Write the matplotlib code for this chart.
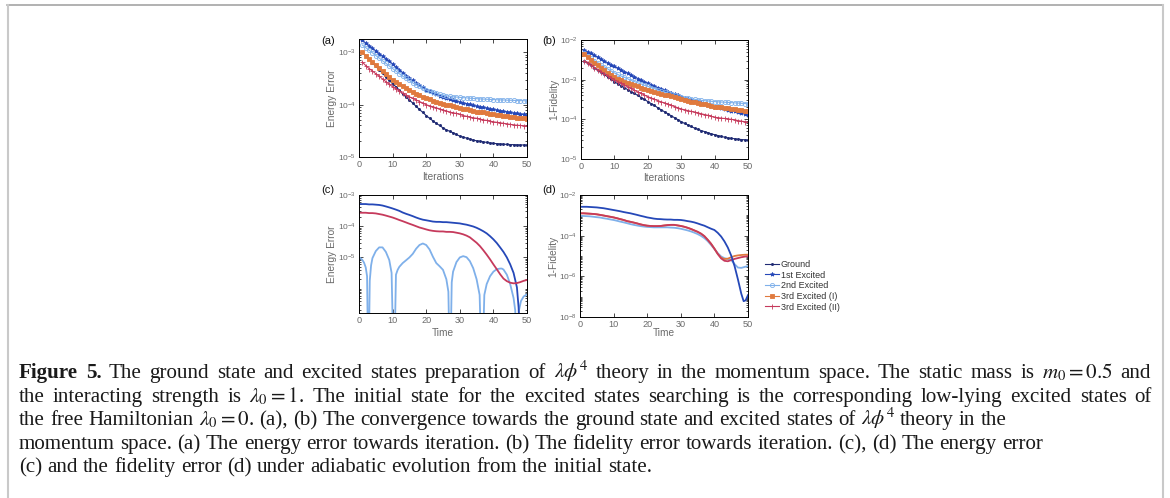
import math
import matplotlib
matplotlib.use("Agg")
import matplotlib.pyplot as plt
from matplotlib.lines import Line2D
from matplotlib.ticker import FixedLocator, LogLocator, FuncFormatter, NullFormatter

plt.rcParams['font.family'] = ['Liberation Sans', 'DejaVu Sans']
plt.rcParams['mathtext.fontset'] = 'custom'
plt.rcParams['mathtext.rm'] = 'Liberation Sans'
plt.rcParams['mathtext.it'] = 'Liberation Sans:italic'
plt.rcParams['mathtext.bf'] = 'Liberation Sans:bold'

W, H = 1170, 498

series_names = ["Ground", "1st Excited", "2nd Excited", "3rd Excited (I)", "3rd Excited (II)"]
iterations = list(range(1, 51))

# (a) energy error vs iteration
energy_ground = [1.0e-3, 8.5e-4, 7.4e-4, 6.3e-4, 5.4e-4, 4.7e-4, 4.0e-4, 3.4e-4, 2.95e-4, 2.5e-4,
                 2.2e-4, 1.9e-4, 1.6e-4, 1.4e-4, 1.23e-4, 1.07e-4, 9.3e-5, 8.1e-5, 7.1e-5, 6.2e-5,
                 5.5e-5, 4.9e-5, 4.4e-5, 4.0e-5, 3.6e-5, 3.3e-5, 3.1e-5, 2.9e-5, 2.7e-5, 2.5e-5,
                 2.4e-5, 2.3e-5, 2.2e-5, 2.1e-5, 2.04e-5, 2.0e-5, 1.95e-5, 1.9e-5, 1.86e-5, 1.82e-5,
                 1.8e-5, 1.78e-5, 1.76e-5, 1.74e-5, 1.73e-5, 1.72e-5, 1.71e-5, 1.70e-5, 1.70e-5, 1.69e-5]
energy_1st = [1.70e-3, 1.51e-3, 1.35e-3, 1.20e-3, 1.07e-3, 9.5e-4, 8.5e-4, 7.6e-4, 6.8e-4, 6.0e-4,
              5.2e-4, 4.7e-4, 4.1e-4, 3.6e-4, 3.2e-4, 2.9e-4, 2.6e-4, 2.35e-4, 2.14e-4, 1.95e-4,
              1.82e-4, 1.70e-4, 1.58e-4, 1.48e-4, 1.38e-4, 1.32e-4, 1.26e-4, 1.22e-4, 1.17e-4, 1.12e-4,
              1.08e-4, 1.05e-4, 1.01e-4, 9.8e-5, 9.3e-5, 9.1e-5, 8.9e-5, 8.6e-5, 8.3e-5, 8.1e-5,
              7.9e-5, 7.7e-5, 7.5e-5, 7.3e-5, 7.1e-5, 6.9e-5, 6.8e-5, 6.6e-5, 6.5e-5, 6.3e-5]
energy_2nd = [1.38e-3, 1.23e-3, 1.10e-3, 9.8e-4, 8.7e-4, 7.8e-4, 6.9e-4, 6.2e-4, 5.5e-4, 4.9e-4,
              4.4e-4, 3.9e-4, 3.5e-4, 3.2e-4, 2.9e-4, 2.6e-4, 2.4e-4, 2.24e-4, 2.04e-4, 1.91e-4,
              1.82e-4, 1.74e-4, 1.66e-4, 1.58e-4, 1.53e-4, 1.48e-4, 1.45e-4, 1.41e-4, 1.40e-4, 1.38e-4,
              1.36e-4, 1.35e-4, 1.33e-4, 1.32e-4, 1.30e-4, 1.29e-4, 1.28e-4, 1.27e-4, 1.26e-4, 1.25e-4,
              1.24e-4, 1.235e-4, 1.23e-4, 1.22e-4, 1.215e-4, 1.21e-4, 1.20e-4, 1.195e-4, 1.19e-4, 1.18e-4]
energy_3rd_i = [1.0e-3, 8.7e-4, 7.6e-4, 6.6e-4, 5.8e-4, 5.0e-4, 4.4e-4, 3.8e-4, 3.4e-4, 3.0e-4,
                2.7e-4, 2.45e-4, 2.24e-4, 2.04e-4, 1.90e-4, 1.76e-4, 1.62e-4, 1.51e-4, 1.41e-4, 1.33e-4,
                1.26e-4, 1.19e-4, 1.13e-4, 1.08e-4, 1.03e-4, 1.0e-4, 9.7e-5, 9.3e-5, 9.0e-5, 8.7e-5,
                8.4e-5, 8.1e-5, 7.9e-5, 7.7e-5, 7.4e-5, 7.2e-5, 7.1e-5, 6.9e-5, 6.7e-5, 6.5e-5,
                6.4e-5, 6.3e-5, 6.2e-5, 6.0e-5, 5.9e-5, 5.8e-5, 5.6e-5, 5.55e-5, 5.5e-5, 5.4e-5]
energy_3rd_ii = [6.5e-4, 5.6e-4, 4.9e-4, 4.4e-4, 3.9e-4, 3.5e-4, 3.1e-4, 2.75e-4, 2.45e-4, 2.2e-4,
                 2.0e-4, 1.82e-4, 1.66e-4, 1.51e-4, 1.41e-4, 1.32e-4, 1.23e-4, 1.15e-4, 1.07e-4, 1.0e-4,
                 9.5e-5, 9.1e-5, 8.7e-5, 8.3e-5, 7.9e-5, 7.6e-5, 7.2e-5, 7.0e-5, 6.8e-5, 6.5e-5,
                 6.2e-5, 6.0e-5, 5.8e-5, 5.6e-5, 5.5e-5, 5.3e-5, 5.1e-5, 5.0e-5, 4.85e-5, 4.7e-5,
                 4.6e-5, 4.5e-5, 4.4e-5, 4.3e-5, 4.2e-5, 4.1e-5, 4.05e-5, 4.0e-5, 3.95e-5, 3.9e-5]

# (b) 1-fidelity vs iteration
infid_ground = [3.0e-3, 2.6e-3, 2.3e-3, 2.0e-3, 1.74e-3, 1.55e-3, 1.35e-3, 1.17e-3, 1.02e-3, 8.9e-4,
                7.9e-4, 7.1e-4, 6.3e-4, 5.6e-4, 5.0e-4, 4.5e-4, 4.0e-4, 3.55e-4, 3.2e-4, 2.8e-4,
                2.5e-4, 2.24e-4, 1.95e-4, 1.74e-4, 1.55e-4, 1.38e-4, 1.23e-4, 1.1e-4, 9.8e-5, 8.7e-5,
                7.9e-5, 7.2e-5, 6.6e-5, 6.0e-5, 5.6e-5, 5.2e-5, 4.9e-5, 4.6e-5, 4.3e-5, 4.1e-5,
                3.9e-5, 3.7e-5, 3.55e-5, 3.4e-5, 3.3e-5, 3.25e-5, 3.15e-5, 3.1e-5, 3.05e-5, 3.0e-5]
infid_1st = [5.6e-3, 5.0e-3, 4.6e-3, 4.1e-3, 3.7e-3, 3.3e-3, 2.95e-3, 2.65e-3, 2.4e-3, 2.15e-3,
             1.95e-3, 1.78e-3, 1.6e-3, 1.45e-3, 1.32e-3, 1.2e-3, 1.07e-3, 9.8e-4, 8.9e-4, 8.1e-4,
             7.4e-4, 6.9e-4, 6.3e-4, 5.9e-4, 5.4e-4, 5.0e-4, 4.7e-4, 4.3e-4, 4.0e-4, 3.7e-4,
             3.5e-4, 3.25e-4, 3.1e-4, 2.9e-4, 2.75e-4, 2.6e-4, 2.45e-4, 2.3e-4, 2.2e-4, 2.1e-4,
             2.0e-4, 1.9e-4, 1.82e-4, 1.74e-4, 1.66e-4, 1.58e-4, 1.51e-4, 1.45e-4, 1.37e-4, 1.3e-4]
infid_2nd = [4.6e-3, 4.0e-3, 3.5e-3, 3.0e-3, 2.7e-3, 2.35e-3, 2.1e-3, 1.86e-3, 1.66e-3, 1.48e-3,
             1.35e-3, 1.23e-3, 1.15e-3, 1.05e-3, 9.5e-4, 8.9e-4, 8.3e-4, 7.8e-4, 7.2e-4, 6.8e-4,
             6.3e-4, 5.9e-4, 5.5e-4, 5.1e-4, 4.9e-4, 4.6e-4, 4.4e-4, 4.1e-4, 3.9e-4, 3.7e-4,
             3.55e-4, 3.4e-4, 3.3e-4, 3.2e-4, 3.1e-4, 3.0e-4, 2.95e-4, 2.9e-4, 2.85e-4, 2.8e-4,
             2.76e-4, 2.73e-4, 2.70e-4, 2.67e-4, 2.63e-4, 2.60e-4, 2.57e-4, 2.54e-4, 2.50e-4, 2.46e-4]
infid_3rd_i = [4.4e-3, 3.7e-3, 3.2e-3, 2.7e-3, 2.3e-3, 2.0e-3, 1.74e-3, 1.51e-3, 1.32e-3, 1.17e-3,
               1.07e-3, 9.8e-4, 8.9e-4, 8.3e-4, 7.8e-4, 7.2e-4, 6.8e-4, 6.3e-4, 5.9e-4, 5.5e-4,
               5.2e-4, 4.9e-4, 4.7e-4, 4.4e-4, 4.2e-4, 4.0e-4, 3.8e-4, 3.6e-4, 3.4e-4, 3.25e-4,
               3.1e-4, 2.95e-4, 2.8e-4, 2.7e-4, 2.6e-4, 2.45e-4, 2.37e-4, 2.3e-4, 2.2e-4, 2.1e-4,
               2.04e-4, 2.0e-4, 1.95e-4, 1.9e-4, 1.84e-4, 1.8e-4, 1.76e-4, 1.7e-4, 1.66e-4, 1.62e-4]
infid_3rd_ii = [3.0e-3, 2.6e-3, 2.3e-3, 2.0e-3, 1.78e-3, 1.58e-3, 1.41e-3, 1.26e-3, 1.12e-3, 1.0e-3,
                8.9e-4, 8.1e-4, 7.2e-4, 6.6e-4, 6.0e-4, 5.4e-4, 4.9e-4, 4.5e-4, 4.1e-4, 3.7e-4,
                3.45e-4, 3.2e-4, 2.95e-4, 2.75e-4, 2.6e-4, 2.4e-4, 2.24e-4, 2.1e-4, 1.95e-4, 1.82e-4,
                1.74e-4, 1.66e-4, 1.58e-4, 1.51e-4, 1.45e-4, 1.38e-4, 1.32e-4, 1.26e-4, 1.19e-4, 1.12e-4,
                1.1e-4, 1.07e-4, 1.05e-4, 1.02e-4, 1.0e-4, 9.7e-5, 9.3e-5, 9.0e-5, 8.7e-5, 8.5e-5]

# (c) energy error under adiabatic evolution
time_1st_c = list(range(48)) + [47.5, 48]
adia_energy_1st = [5.13e-4, 5.13e-4, 5.13e-4, 5.0e-4, 5.0e-4, 4.9e-4, 4.8e-4, 4.6e-4, 4.3e-4, 4.0e-4,
                   3.7e-4, 3.4e-4, 3.1e-4, 2.75e-4, 2.5e-4, 2.3e-4, 2.1e-4, 1.9e-4, 1.74e-4, 1.62e-4,
                   1.55e-4, 1.48e-4, 1.41e-4, 1.38e-4, 1.38e-4, 1.35e-4, 1.35e-4, 1.32e-4, 1.29e-4, 1.26e-4,
                   1.23e-4, 1.17e-4, 1.12e-4, 1.05e-4, 9.8e-5, 8.9e-5, 7.9e-5, 6.9e-5, 5.9e-5, 4.8e-5,
                   3.8e-5, 2.9e-5, 2.1e-5, 1.5e-5, 1.0e-5, 6.0e-6, 3.2e-6, 1.1e-6, 2.5e-7, 1e-8]
time_2nd_c = [0, 0.5, 1, 1.5, 2, 2.4, 2.8, 3.2, 3.6, 4,
              5, 6, 7, 8, 9, 9.7, 10.4, 11.0, 11.5, 12,
              13, 14, 15, 16, 17, 18, 19, 20, 21, 22,
              23, 24, 25, 26, 26.6, 27.1, 27.6, 28, 29, 30,
              31, 32, 33, 34, 35, 35.9, 36.6, 37.3, 38, 39,
              40, 41, 42, 42.5, 43, 44, 45, 46, 46.5, 47.0,
              47.6, 48.2, 49, 50]
adia_energy_2nd = [1.0e-5, 9.3e-6, 8.3e-6, 6.8e-6, 4.8e-6, 2.5e-6, 1e-9, 1.8e-6, 5.6e-6, 9.5e-6,
                   1.6e-5, 2.1e-5, 2.1e-5, 1.5e-5, 8.3e-6, 3.2e-6, 1e-9, 2.8e-6, 4.0e-6, 5.0e-6,
                   6.6e-6, 8.1e-6, 1.0e-5, 1.3e-5, 1.9e-5, 2.5e-5, 2.8e-5, 2.5e-5, 1.8e-5, 1.05e-5,
                   6.6e-6, 5.2e-6, 4.0e-6, 2.0e-6, 8e-7, 1e-9, 1.6e-6, 3.5e-6, 7.1e-6, 1.0e-5,
                   1.1e-5, 1.02e-5, 7.6e-6, 4.5e-6, 2.0e-6, 6.3e-7, 1e-9, 6.3e-7, 1.4e-6, 2.5e-6,
                   3.5e-6, 4.2e-6, 4.4e-6, 4.4e-6, 4.1e-6, 2.8e-6, 1.4e-6, 5.0e-7, 2.0e-7, 1e-9,
                   2.0e-7, 4.0e-7, 5.6e-7, 6.6e-7]
time_c = list(range(51))
adia_energy_3rd_ii = [2.7e-4, 2.7e-4, 2.7e-4, 2.63e-4, 2.63e-4, 2.57e-4, 2.45e-4, 2.34e-4, 2.19e-4, 2.04e-4,
                      1.9e-4, 1.74e-4, 1.58e-4, 1.45e-4, 1.32e-4, 1.2e-4, 1.1e-4, 1.0e-4, 9.1e-5, 8.5e-5,
                      7.9e-5, 7.4e-5, 7.1e-5, 6.9e-5, 6.8e-5, 6.8e-5, 6.6e-5, 6.6e-5, 6.5e-5, 6.2e-5,
                      5.9e-5, 5.5e-5, 5.0e-5, 4.4e-5, 3.6e-5, 2.95e-5, 2.3e-5, 1.7e-5, 1.23e-5, 8.7e-6,
                      6.0e-6, 4.2e-6, 2.9e-6, 2.1e-6, 1.74e-6, 1.55e-6, 1.48e-6, 1.51e-6, 1.62e-6, 1.78e-6,
                      1.9e-6]

# (d) 1-fidelity under adiabatic evolution
time_1st_d = list(range(49)) + [48.7, 49.3, 50]
adia_infid_1st = [2.63e-3, 2.63e-3, 2.63e-3, 2.57e-3, 2.51e-3, 2.45e-3, 2.34e-3, 2.24e-3, 2.09e-3, 1.95e-3,
                  1.82e-3, 1.70e-3, 1.58e-3, 1.45e-3, 1.35e-3, 1.26e-3, 1.15e-3, 1.05e-3, 9.5e-4, 8.7e-4,
                  7.9e-4, 7.4e-4, 6.9e-4, 6.6e-4, 6.5e-4, 6.3e-4, 6.2e-4, 6.2e-4, 6.0e-4, 6.0e-4,
                  5.9e-4, 5.6e-4, 5.2e-4, 4.9e-4, 4.5e-4, 4.0e-4, 3.5e-4, 3.1e-4, 2.6e-4, 2.2e-4,
                  1.9e-4, 1.38e-4, 9.1e-5, 5.2e-5, 2.6e-5, 1.05e-5, 3.2e-6, 7.1e-7, 1.4e-7, 6.0e-8,
                  6.6e-8, 1.2e-7]
time_d = list(range(51))
adia_infid_2nd = [9.5e-4, 9.3e-4, 9.1e-4, 8.9e-4, 8.5e-4, 8.1e-4, 7.8e-4, 7.2e-4, 6.8e-4, 6.3e-4,
                  5.9e-4, 5.4e-4, 4.9e-4, 4.5e-4, 4.1e-4, 3.7e-4, 3.4e-4, 3.16e-4, 2.95e-4, 2.8e-4,
                  2.7e-4, 2.63e-4, 2.57e-4, 2.57e-4, 2.57e-4, 2.57e-4, 2.57e-4, 2.5e-4, 2.45e-4, 2.34e-4,
                  2.19e-4, 2.0e-4, 1.82e-4, 1.62e-4, 1.41e-4, 1.2e-4, 9.8e-5, 7.6e-5, 5.4e-5, 3.5e-5,
                  2.2e-5, 1.38e-5, 9.5e-6, 7.8e-6, 7.1e-6, 6.3e-6, 4.0e-6, 2.7e-6, 2.6e-6, 2.9e-6,
                  3.2e-6]
adia_infid_3rd_i = [1.26e-3, 1.26e-3, 1.23e-3, 1.20e-3, 1.17e-3, 1.12e-3, 1.05e-3, 9.8e-4, 9.1e-4, 8.5e-4,
                    7.9e-4, 7.2e-4, 6.5e-4, 5.9e-4, 5.2e-4, 4.8e-4, 4.4e-4, 4.0e-4, 3.6e-4, 3.3e-4,
                    3.1e-4, 3.0e-4, 2.95e-4, 2.95e-4, 3.0e-4, 3.16e-4, 3.3e-4, 3.4e-4, 3.4e-4, 3.2e-4,
                    3.0e-4, 2.75e-4, 2.45e-4, 2.14e-4, 1.82e-4, 1.55e-4, 1.26e-4, 9.5e-5, 6.3e-5, 4.0e-5,
                    2.3e-5, 1.26e-5, 8.3e-6, 7.1e-6, 7.4e-6, 8.7e-6, 1.0e-5, 1.07e-5, 1.12e-5, 1.15e-5,
                    1.17e-5]
adia_infid_3rd_ii = [1.26e-3, 1.26e-3, 1.23e-3, 1.20e-3, 1.17e-3, 1.12e-3, 1.05e-3, 9.8e-4, 9.1e-4, 8.5e-4,
                     7.9e-4, 7.2e-4, 6.5e-4, 5.9e-4, 5.2e-4, 4.8e-4, 4.4e-4, 4.0e-4, 3.6e-4, 3.3e-4,
                     3.1e-4, 3.0e-4, 2.95e-4, 2.95e-4, 3.0e-4, 3.16e-4, 3.3e-4, 3.4e-4, 3.4e-4, 3.2e-4,
                     3.0e-4, 2.75e-4, 2.45e-4, 2.14e-4, 1.82e-4, 1.55e-4, 1.26e-4, 9.5e-5, 6.3e-5, 4.0e-5,
                     2.3e-5, 1.26e-5, 7.6e-6, 5.8e-6, 5.5e-6, 6.3e-6, 7.2e-6, 7.9e-6, 8.7e-6, 9.3e-6,
                     9.8e-6]

caption_lines = [
    [("Figure 5.", 'bold'),
     ("The ground state and excited states preparation of $\\lambda\\phi^4$ theory in the momentum space. "
      "The static mass is $m_0=0.5$ and", 'normal')],
    [("the interacting strength is $\\lambda_0=1$. The initial state for the excited states searching is "
      "the corresponding low-lying excited states of", 'normal')],
    [("the free Hamiltonian $\\lambda_0=0$. (a), (b) The convergence towards the ground state and excited "
      "states of $\\lambda\\phi^4$ theory in the", 'normal')],
    [("momentum space. (a) The energy error towards iteration. (b) The fidelity error towards iteration. "
      "(c), (d) The energy error", 'normal')],
    [("(c) and the fidelity error (d) under adiabatic evolution from the initial state.", 'normal')],
]

colors = ['#1f2a73', '#2548b8', '#7fb0ea', '#e07a3e', '#c63a5c']
markers = ['.', '*', 'o', 's', '+']
msizes = [3.0, 3.0, 3.0, 2.4, 3.6]
GRAY = '#6a6a6a'
SERIF = ['Liberation Serif', 'DejaVu Serif']


def px_rect(left, top, right, bottom):
    return [left / W, 1 - bottom / H, (right - left) / W, (bottom - top) / H]


def decade_fmt(v, pos):
    return r'$10^{%d}$' % round(math.log10(v))


def style_axes(ax, ylim, yticks, xlabel, ylabel, xlab_y):
    ax.set_yscale('log')
    ax.set_xlim(0, 50)
    ax.set_ylim(*ylim)
    ax.set_xticks([0, 10, 20, 30, 40, 50])
    ax.yaxis.set_major_locator(FixedLocator(yticks))
    ax.yaxis.set_major_formatter(FuncFormatter(decade_fmt))
    ax.yaxis.set_minor_locator(LogLocator(base=10, subs=range(1, 10), numticks=20))
    ax.yaxis.set_minor_formatter(NullFormatter())
    ax.tick_params(which='both', direction='in', top=True, right=True,
                   labelcolor=GRAY, width=0.5, pad=2)
    ax.tick_params(axis='x', labelsize=6.6)
    ax.tick_params(axis='y', labelsize=6.0)
    ax.tick_params(which='major', length=2.6)
    ax.tick_params(which='minor', length=1.4)
    for sp in ax.spines.values():
        sp.set_linewidth(0.7)
    ax.set_xlabel(xlabel, fontsize=7.3, color=GRAY)
    ax.set_ylabel(ylabel, fontsize=7.3, color=GRAY)
    ax.xaxis.set_label_coords(0.5, xlab_y)
    ax.xaxis.label.set_va('center')
    ax.yaxis.set_label_coords(-0.16, 0.5)
    ax.yaxis.label.set_va('center')


fig = plt.figure(figsize=(W / 100, H / 100), dpi=100)
fig.patch.set_facecolor('white')

ax_a = fig.add_axes(px_rect(359, 39, 527, 157))
ax_b = fig.add_axes(px_rect(581, 40, 748, 159))
ax_c = fig.add_axes(px_rect(359, 195, 527, 313))
ax_d = fig.add_axes(px_rect(580, 195, 748, 317))

energy_sets = [energy_ground, energy_1st, energy_2nd, energy_3rd_i, energy_3rd_ii]
infid_sets = [infid_ground, infid_1st, infid_2nd, infid_3rd_i, infid_3rd_ii]
handles = []
for i, name in enumerate(series_names):
    mfc = 'none' if markers[i] == 'o' else colors[i]
    kw = dict(color=colors[i], marker=markers[i], ms=msizes[i], mfc=mfc, mew=0.6, lw=0.8)
    h, = ax_a.plot(iterations, energy_sets[i], label=name, **kw)
    ax_b.plot(iterations, infid_sets[i], **kw)
    handles.append(h)

ax_c.plot(time_2nd_c, adia_energy_2nd, color=colors[2], lw=1.3)
ax_c.plot(time_1st_c, adia_energy_1st, color=colors[1], lw=1.3)
ax_c.plot(time_c, adia_energy_3rd_ii, color=colors[4], lw=1.3)

ax_d.plot(time_d, adia_infid_2nd, color=colors[2], lw=1.3)
ax_d.plot(time_d, adia_infid_3rd_i, color=colors[3], lw=1.3)
ax_d.plot(time_d, adia_infid_3rd_ii, color=colors[4], lw=1.3)
ax_d.plot(time_1st_d, adia_infid_1st, color=colors[1], lw=1.3)

style_axes(ax_a, (1e-5, 1.8e-3), [1e-5, 1e-4, 1e-3], 'Iterations', 'Energy Error', -0.17)
style_axes(ax_b, (1e-5, 1e-2), [1e-5, 1e-4, 1e-3, 1e-2], 'Iterations', '1-Fidelity', -0.16)
style_axes(ax_c, (1.66e-7, 1e-3), [1e-5, 1e-4, 1e-3], 'Time', 'Energy Error', -0.17)
style_axes(ax_d, (1e-8, 1e-2), [1e-8, 1e-6, 1e-4, 1e-2], 'Time', '1-Fidelity', -0.135)

for lab, (x, y) in zip(['(a)', '(b)', '(c)', '(d)'],
                       [(328, 41), (549, 41), (328, 190), (549, 190)]):
    fig.text(x / W, 1 - y / H, lab, fontsize=8, ha='center', va='center', color='#111111')

leg = fig.legend(handles=handles, labels=series_names, loc='upper left',
                 bbox_to_anchor=(765 / W, 1 - 260 / H), frameon=False, fontsize=6.5,
                 handlelength=1.6, handletextpad=0.12, labelspacing=0.18,
                 borderaxespad=0, borderpad=0, numpoints=1)
for t in leg.get_texts():
    t.set_color('#333333')

# page frame
fig.add_artist(Line2D([7 / W, 1163 / W], [1 - 5 / H, 1 - 5 / H], color='#9c9c9c', lw=1.1))
fig.add_artist(Line2D([8 / W, 8 / W], [0, 1 - 5 / H], color='#c9c9c9', lw=1.5))
fig.add_artist(Line2D([1163 / W, 1163 / W], [0, 1 - 5 / H], color='#c9c9c9', lw=1.5))

# caption, set word by word; first two lines are justified
renderer = fig.canvas.get_renderer()
baselines = [378, 402, 425, 449, 472]
line_right = [1151, 1152, None, None, None]
LEFT = 19


def line_words(line):
    out = []
    for seg, weight in line:
        out += [(w, weight) for w in seg.split(' ') if w]
    return out


def word_widths(words, size):
    ws = []
    for w, weight in words:
        t = fig.text(0, 0, w, fontsize=size, family=SERIF, weight=weight, math_fontfamily='stix')
        ws.append(t.get_window_extent(renderer).width)
        t.remove()
    return ws


def natural_width(words, size):
    return sum(word_widths(words, size)) + 0.25 * size * 100 / 72 * (len(words) - 1)


probe = 13
nat = natural_width(line_words(caption_lines[3]), probe) + natural_width(line_words(caption_lines[4]), probe)
cap_size = probe * ((1060 - LEFT) + (628 - LEFT)) / nat

for line, y, right in zip(caption_lines, baselines, line_right):
    words = line_words(line)
    widths = word_widths(words, cap_size)
    if right is None:
        gap = 0.25 * cap_size * 100 / 72
    else:
        gap = (right - LEFT - sum(widths)) / (len(words) - 1)
    x = LEFT
    for (w, weight), wd in zip(words, widths):
        fig.text(x / W, 1 - y / H, w, fontsize=cap_size, family=SERIF, weight=weight,
                 ha='left', va='baseline', color='#1a1a1a', math_fontfamily='stix')
        x += wd + gap

fig.savefig('out.png', dpi=100, facecolor='white')
